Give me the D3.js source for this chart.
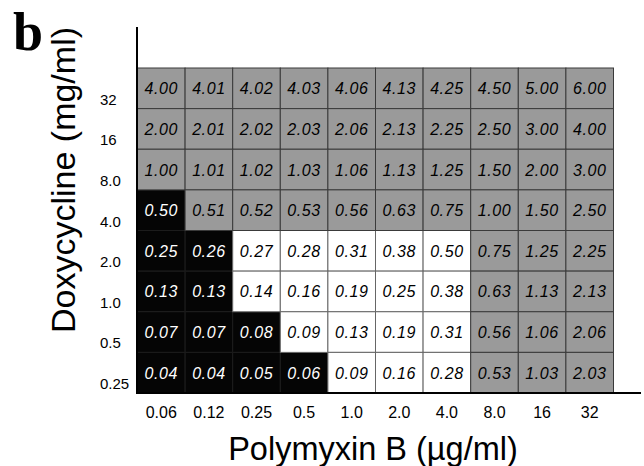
<!DOCTYPE html>
<html>
<head>
<meta charset="utf-8">
<script src="https://cdn.jsdelivr.net/npm/d3@7"></script>
<style>
  body { margin: 0; background: #fff; }
  svg { display: block; font-family: "Liberation Sans", Arial, Helvetica, sans-serif; }
</style>
</head>
<body>
<div id="chart"></div>
<script>
// polymyxin B concentrations (columns) and doxycycline concentrations (rows, top to bottom)
const polymyxin = ["0.06", "0.12", "0.25", "0.5", "1.0", "2.0", "4.0", "8.0", "16", "32"];
const doxycycline = ["32", "16", "8.0", "4.0", "2.0", "1.0", "0.5", "0.25"];

// FIC values, one row per doxycycline level
const fic = [
    [4.00, 4.01, 4.02, 4.03, 4.06, 4.13, 4.25, 4.50, 5.00, 6.00],
    [2.00, 2.01, 2.02, 2.03, 2.06, 2.13, 2.25, 2.50, 3.00, 4.00],
    [1.00, 1.01, 1.02, 1.03, 1.06, 1.13, 1.25, 1.50, 2.00, 3.00],
    [0.50, 0.51, 0.52, 0.53, 0.56, 0.63, 0.75, 1.00, 1.50, 2.50],
    [0.25, 0.26, 0.27, 0.28, 0.31, 0.38, 0.50, 0.75, 1.25, 2.25],
    [0.13, 0.13, 0.14, 0.16, 0.19, 0.25, 0.38, 0.63, 1.13, 2.13],
    [0.07, 0.07, 0.08, 0.09, 0.13, 0.19, 0.31, 0.56, 1.06, 2.06],
    [0.04, 0.04, 0.05, 0.06, 0.09, 0.16, 0.28, 0.53, 1.03, 2.03]
];

// well outcome: k = black, w = white, g = grey
const outcome = [
    "gggggggggg",
    "gggggggggg",
    "gggggggggg",
    "kggggggggg",
    "kkwwwwwggg",
    "kkwwwwwggg",
    "kkkwwwwggg",
    "kkkkwwwggg"
];

const width = 644, height = 466;

const svg = d3.select("#chart")
    .append("svg")
    .attr("width", width)
    .attr("height", height);

const x = d3.scaleBand()
    .domain(polymyxin)
    .range([137.5, 613.5]);

const y = d3.scaleBand()
    .domain(doxycycline)
    .range([68, 393]);

const fills = { k: "#050505", w: "#ffffff", g: "#9a9a9a" };
const strokes = { k: "#1c1c1c", w: "#666666", g: "#3a3a3a" };
const textColor = { k: "#ffffff", w: "#000000", g: "#000000" };

// flatten into cells
const cells = [];
doxycycline.forEach((d, i) => {
    polymyxin.forEach((p, j) => {
        cells.push({ dox: d, pol: p, value: fic[i][j], code: outcome[i][j] });
    });
});

const cellG = svg.append("g").attr("class", "cells");

// draw white and black first, grey last so its darker grid sits on top
const order = { k: 0, w: 1, g: 2 };
cellG.selectAll("rect")
    .data(cells.slice().sort((a, b) => order[a.code] - order[b.code]))
    .enter()
    .append("rect")
    .attr("x", d => x(d.pol))
    .attr("y", d => y(d.dox))
    .attr("width", x.bandwidth())
    .attr("height", y.bandwidth())
    .attr("fill", d => fills[d.code])
    .attr("stroke", d => strokes[d.code])
    .attr("stroke-width", 1);

cellG.selectAll("text")
    .data(cells)
    .enter()
    .append("text")
    .attr("x", d => x(d.pol) + x.bandwidth() / 2)
    .attr("y", d => y(d.dox) + y.bandwidth() / 2 + 6)
    .attr("text-anchor", "middle")
    .attr("font-size", 16)
    .attr("font-style", "italic")
    .attr("letter-spacing", 0.6)
    .attr("fill", d => textColor[d.code])
    .text(d => d.value.toFixed(2));

// axis lines
svg.append("line")
    .attr("x1", 137).attr("x2", 137)
    .attr("y1", 27).attr("y2", 394)
    .attr("stroke", "#000").attr("stroke-width", 2);

svg.append("line")
    .attr("x1", 136).attr("x2", 641)
    .attr("y1", 393).attr("y2", 393)
    .attr("stroke", "#000").attr("stroke-width", 2);

// tick labels
svg.append("g")
    .selectAll("text")
    .data(doxycycline)
    .enter()
    .append("text")
    .attr("x", 100)
    .attr("y", d => y(d) + y.bandwidth() - 4)
    .attr("font-size", 15)
    .text(d => d);

svg.append("g")
    .selectAll("text")
    .data(polymyxin)
    .enter()
    .append("text")
    .attr("x", d => x(d) + x.bandwidth() / 2)
    .attr("y", 418)
    .attr("text-anchor", "middle")
    .attr("font-size", 16)
    .text(d => d);

// axis titles
svg.append("text")
    .attr("x", 373)
    .attr("y", 460)
    .attr("text-anchor", "middle")
    .attr("font-size", 32.5)
    .text("Polymyxin B (\u00b5g/ml)");

svg.append("text")
    .attr("transform", "translate(75,180) rotate(-90)")
    .attr("text-anchor", "middle")
    .attr("font-size", 34)
    .text("Doxycycline (mg/ml)");

// panel letter
svg.append("text")
    .attr("x", 13)
    .attr("y", 50)
    .attr("font-family", "'Liberation Serif', 'Times New Roman', serif")
    .attr("font-weight", "bold")
    .attr("font-size", 54)
    .text("b");
</script>
</body>
</html>
